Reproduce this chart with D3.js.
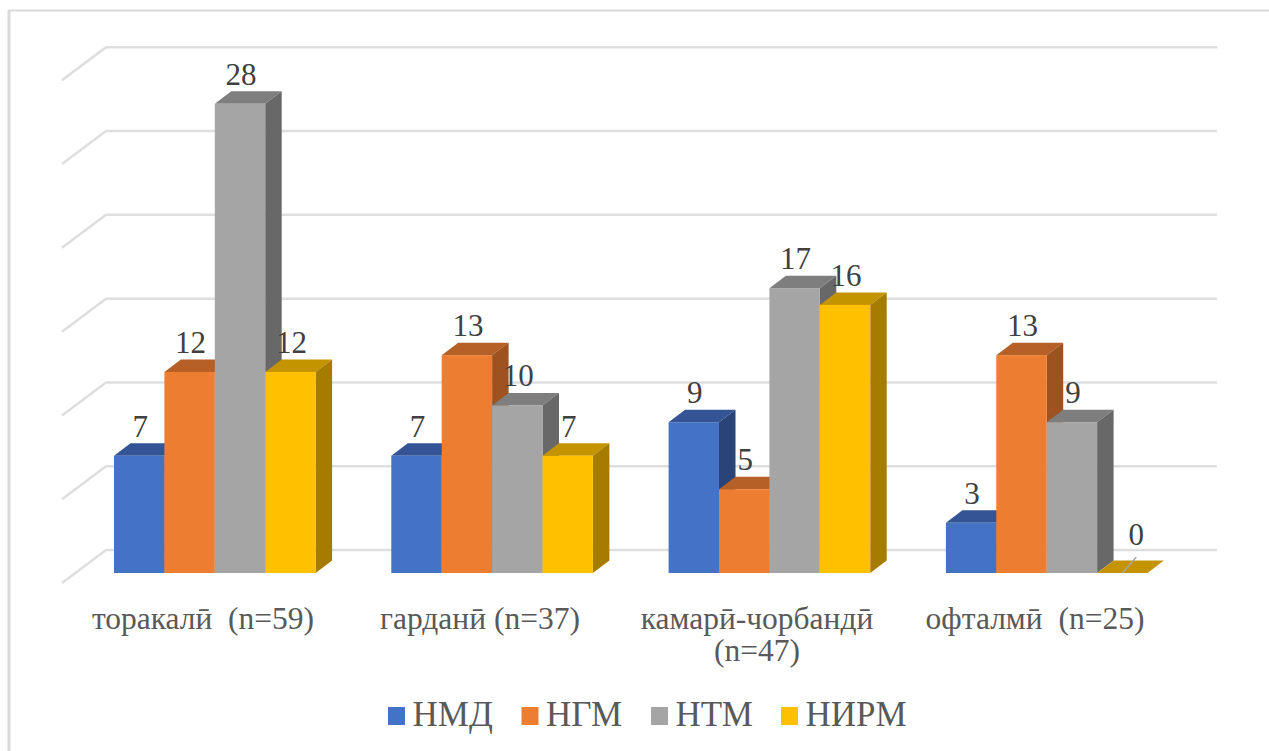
<!DOCTYPE html>
<html>
<head>
<meta charset="utf-8">
<script src="https://cdn.jsdelivr.net/npm/d3@7"></script>
<style>
html, body { margin: 0; padding: 0; background: #fff; overflow: hidden; }
</style>
</head>
<body>
<svg id="chart" width="1269" height="751"></svg>
<script>
var categories = ["торакалӣ  (n=59)", "гарданӣ (n=37)", "камарӣ-чорбандӣ|(n=47)", "офталмӣ  (n=25)"];
var seriesNames = ["НМД", "НГМ", "НТМ", "НИРМ"];
var nmd = [7, 7, 9, 3];
var ngm = [12, 13, 5, 13];
var ntm = [28, 10, 17, 9];
var nirm = [12, 7, 16, 0];
var gridTicks = [0, 5, 10, 15, 20, 25, 30];

var frontColors = ["#4472c4", "#ed7d31", "#a5a5a5", "#ffc000"];
var topColors = ["#345495", "#b65f26", "#7e7e7e", "#c49300"];
var sideColors = ["#2a4478", "#9d5220", "#686868", "#a67c00"];

var seriesValues = [nmd, ngm, ntm, nirm];
var depthX = 16.5, depthY = -12.5;
var fontName = "Liberation Serif";

var svg = d3.select("#chart");

// chart frame, right and bottom edges run off the picture
svg.append("line").attr("x1", 8).attr("y1", 10.5).attr("x2", 1269).attr("y2", 10.5)
    .attr("stroke", "#d9d9d9").attr("stroke-width", 2);
svg.append("line").attr("x1", 9).attr("y1", 10).attr("x2", 9).attr("y2", 751)
    .attr("stroke", "#d9d9d9").attr("stroke-width", 3);

var y = d3.scaleLinear().domain([0, 30]).range([573, 70.3]);
var x = d3.scaleLinear().domain([0, 4]).range([114, 114 + 277.3 * 4]);
var xBar = d3.scaleBand().domain(d3.range(4)).range([0, 201.6]);

// back gridlines and side wall lines
var grid = svg.append("g").attr("stroke", "#dedede").attr("stroke-width", 2.5).attr("fill", "none");
gridTicks.forEach(function(t) {
    var gy = y(t) - 23;
    grid.append("line").attr("x1", 106).attr("y1", gy).attr("x2", 1217).attr("y2", gy);
    grid.append("line").attr("x1", 62).attr("y1", gy + 33).attr("x2", 106).attr("y2", gy);
});

// bars, left to right in each cluster so the next bar covers the side of the last
categories.forEach(function(c, i) {
    var g = svg.append("g");
    seriesValues.forEach(function(vals, s) {
        var v = vals[i];
        var bx = x(i) + xBar(s), w = xBar.bandwidth();
        var top = y(v), base = y(0);

        g.append("polygon")
            .attr("points", [[bx, top], [bx + depthX, top + depthY], [bx + w + depthX, top + depthY], [bx + w, top]].join(" "))
            .attr("fill", topColors[s]);
        g.append("polygon")
            .attr("points", [[bx + w, top], [bx + w + depthX, top + depthY], [bx + w + depthX, base + depthY], [bx + w, base]].join(" "))
            .attr("fill", sideColors[s]);
        if (v > 0) {
            g.append("rect").attr("x", bx).attr("y", top).attr("width", w).attr("height", base - top)
                .attr("fill", frontColors[s]);
        }
    });
    // labels go on top of all bars in the cluster
    seriesValues.forEach(function(vals, s) {
        var v = vals[i];
        var bx = x(i) + xBar(s), w = xBar.bandwidth();
        if (v === 0) {
            g.append("line").attr("x1", bx + w / 2).attr("y1", y(0)).attr("x2", bx + w / 2 + 14).attr("y2", y(0) - 16)
                .attr("stroke", "#a6a6a6").attr("stroke-width", 1.5);
        }
        g.append("text")
            .attr("x", bx + w / 2 + (v === 0 ? 14 : 1))
            .attr("y", y(v) + depthY - (v === 0 ? 16 : 6.5))
            .attr("text-anchor", "middle")
            .attr("font-family", fontName)
            .attr("font-size", 31)
            .attr("fill", "#404040")
            .text(v);
    });
});

// category labels
var catG = svg.append("g");
var catX = [203, 480, 757, 1035];
categories.forEach(function(c, i) {
    c.split("|").forEach(function(part, j) {
        catG.append("text")
            .attr("x", catX[i])
            .attr("y", 629 + j * 31.5)
            .attr("text-anchor", "middle")
            .attr("font-family", fontName)
            .attr("font-size", 31.5)
            .attr("fill", "#595959")
            .style("white-space", "pre")
            .text(part);
    });
});

// legend
var legX = [388, 521.5, 651, 781];
var legend = svg.append("g");
seriesNames.forEach(function(n, s) {
    legend.append("rect").attr("x", legX[s]).attr("y", 707).attr("width", 17).attr("height", 18).attr("fill", frontColors[s]);
    legend.append("text").attr("x", legX[s] + 24.5).attr("y", 726).attr("font-family", fontName)
        .attr("font-size", 35).attr("fill", "#595959").text(n);
});
</script>
</body>
</html>
